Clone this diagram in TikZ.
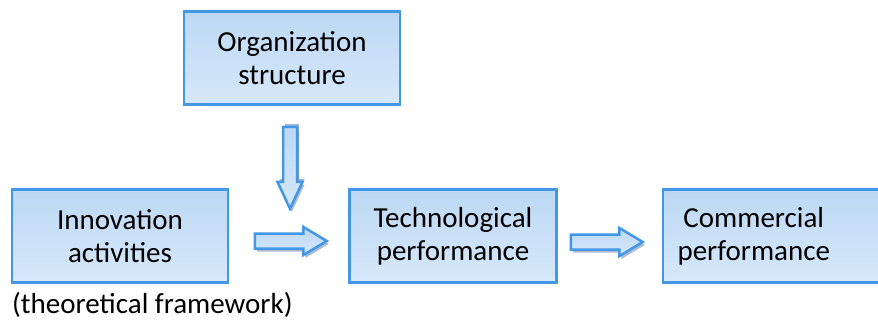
\documentclass[tikz,border=0pt]{standalone}
\usepackage{fontspec}
\setmainfont{Carlito}
\usetikzlibrary{shapes.arrows, positioning, shadows}
\definecolor{boxblue}{RGB}{66,152,230}
\definecolor{boxtop}{RGB}{189,216,244}
\definecolor{boxbot}{RGB}{214,232,250}
\definecolor{shadowgray}{RGB}{120,140,175}
\tikzset{
    box/.style={
        rectangle,
        draw=boxblue,
        line width=2.5pt,
        top color=boxtop,
        bottom color=boxbot,
        minimum width=#1,
        minimum height=93pt,
        align=center,
        font=\fontsize{29}{33}\selectfont
    },
    box/.default=216pt,
    boxtext/.style={
        align=center,
        inner sep=0pt,
        font=\fontsize{29}{33}\selectfont
    },
    blockarrow/.style={
        single arrow,
        draw=boxblue,
        line width=2.5pt,
        top color=boxtop,
        bottom color=boxbot,
        inner xsep=0pt,
        minimum width=0pt,
        anchor=tail,
        single arrow head indent=0pt,
        drop shadow={shadow xshift=2pt, shadow yshift=-3pt, fill=shadowgray, opacity=.6}
    }
}
\begin{document}
\begin{tikzpicture}[x=1pt, y=-1pt, node distance=0pt]
    \useasboundingbox (0,0) rectangle (878,321);
    \node[box]                      (org)   at (292,58)  {Organization\\structure};
    \node[box]                      (innov) at (120,236) {Innovation\\activities};
    \node[box=207pt, right=119pt of innov]  (tech)  {Technological\\performance};
    \node[box=240pt, right=104pt of tech]   (comm)  {};
    \node[boxtext] (commtext) at ([xshift=92pt]comm.west) {Commercial\\performance};
    \node[boxtext, anchor=base west] (caption) at (12,313) {(theoretical framework)};

    \node[blockarrow, rotate=-90, minimum height=82pt, inner ysep=5.75pt,
          single arrow head extend=5.5pt, single arrow tip angle=50,
          drop shadow={shadow xshift=2pt, shadow yshift=3pt, fill=shadowgray, opacity=.6}] (orgarrow) at (290,125.5) {};
    \node[blockarrow, minimum height=72pt, inner ysep=6.25pt,
          single arrow head extend=6.5pt, single arrow tip angle=62] (innovarrow) at (253.5,241) {};
    \node[blockarrow, minimum height=72pt, inner ysep=6.25pt,
          single arrow head extend=6.5pt, single arrow tip angle=62] (techarrow) at (569.5,242) {};
\end{tikzpicture}
\end{document}
